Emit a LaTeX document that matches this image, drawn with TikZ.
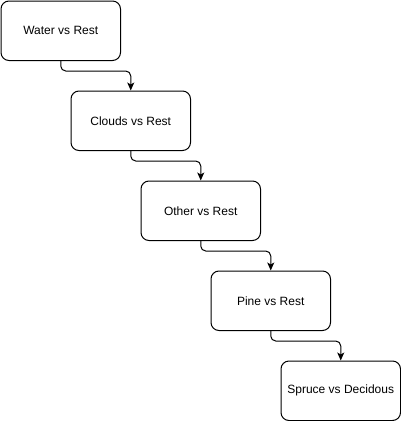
\documentclass[tikz,border=0pt]{standalone}
\usepackage{fontspec}
\setmainfont{Liberation Sans}
\usetikzlibrary{arrows.meta,calc}
\begin{document}
\begin{tikzpicture}[x=1pt,y=-1pt,
  box/.style={draw=black,line width=1pt,rounded corners=8pt,minimum width=119.5pt,minimum height=59.5pt,inner sep=0pt,font=\fontsize{12}{14}\selectfont,anchor=north west},
  conn/.style={draw=black,line width=1pt,rounded corners=5pt,-{Stealth[length=8pt,width=7pt,inset=2pt]}}]
\useasboundingbox (0,0) rectangle (401,421);
\node[box] (a) at (0.5,0.5) {Water vs Rest};
\node[box] (b) at (70.5,90.5) {Clouds vs Rest};
\node[box] (c) at (140.5,180.5) {Other vs Rest};
\node[box] (d) at (210.5,270.5) {Pine vs Rest};
\node[box] (e) at (280.5,360.5) {Spruce vs Decidous};
\draw[conn] (a.south) -- ++(0,10) -| (b.north);
\draw[conn] (b.south) -- ++(0,10) -| (c.north);
\draw[conn] (c.south) -- ++(0,10) -| (d.north);
\draw[conn] (d.south) -- ++(0,10) -| (e.north);
\end{tikzpicture}
\end{document}
